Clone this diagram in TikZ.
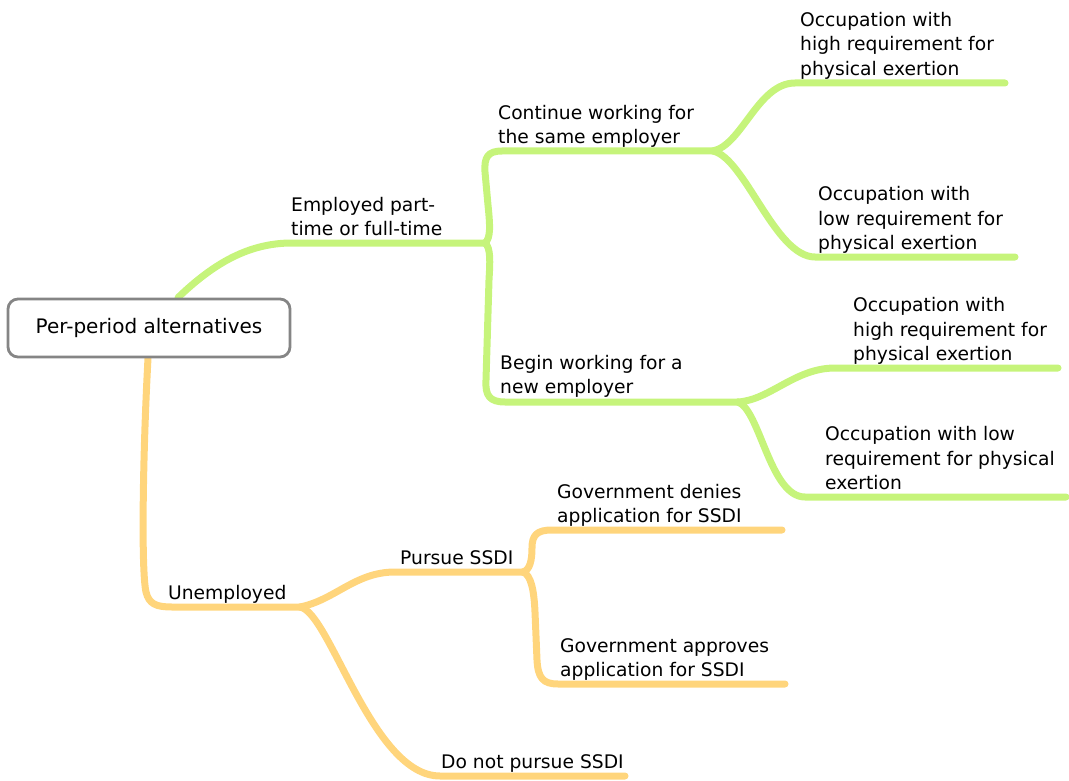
\documentclass[tikz,border=0pt]{standalone}
\usepackage{fontspec}
\setmainfont{DejaVu Sans}
\usetikzlibrary{positioning,backgrounds}
\definecolor{limeline}{HTML}{C6F47B}
\definecolor{peachline}{HTML}{FFD57C}
\definecolor{boxgray}{HTML}{858585}

\begin{document}
\begin{tikzpicture}[x=1pt,y=-1pt]
 \tikzstyle{every node}=[font=\fontsize{18.7}{24.5}\selectfont]
 \tikzstyle{lbl} = [anchor=base west, inner sep=0pt, align=left]
 \tikzstyle{g} = [draw=limeline, line width=7pt, line cap=round]
 \tikzstyle{o} = [draw=peachline, line width=7pt, line cap=round]
 \tikzstyle{rootbox} = [draw=boxgray, fill=white, line width=2.8pt, rounded corners=10pt,
   minimum width=282pt, minimum height=58pt, inner sep=0pt, font=\fontsize{20}{24}\selectfont]
 \useasboundingbox (0,0) rectangle (1069,781);

 \node[rootbox] (Root) at (149,328) {Per-period alternatives};

 % junctions and line ends
 \coordinate (J1) at (485,243);
 \coordinate (J2) at (713,151);
 \coordinate (J3) at (738,402);
 \coordinate (J4) at (300,607);
 \coordinate (J5) at (523,572);
 \coordinate (HighAEnd) at (1005,83);
 \coordinate (LowAEnd) at (1015,257);
 \coordinate (HighBEnd) at (1058,368);
 \coordinate (LowBEnd) at (1066,497);
 \coordinate (NoSSDIEnd) at (625,776);
 \coordinate (DeniesEnd) at (782,530);
 \coordinate (ApprovesEnd) at (785,684);

 % labels (base = last line)
 \node[lbl] (Employed) at (291,235.5) {Employed part-\\time or full-time};
 \node[lbl] (Same) at (498,143.5) {Continue working for\\the same employer};
 \node[lbl] (HighA) at (800,75.5) {Occupation with\\high requirement for\\physical exertion};
 \node[lbl] (LowA) at (818,249.5) {Occupation with\\low requirement for\\physical exertion};
 \node[lbl] (New) at (500,393.5) {Begin working for a\\new employer};
 \node[lbl] (HighB) at (853,360.5) {Occupation with\\high requirement for\\physical exertion};
 \node[lbl] (LowB) at (825,489.5) {Occupation with low\\requirement for physical\\exertion};
 \node[lbl] (Unemployed) at (168,599.5) {Unemployed};
 \node[lbl] (SSDI) at (400,564.5) {Pursue SSDI};
 \node[lbl] (NoSSDI) at (441,768.5) {Do not pursue SSDI};
 \node[lbl] (Denies) at (557,522.5) {Government denies\\application for SSDI};
 \node[lbl] (Approves) at (560,676.5) {Government approves\\application for SSDI};

 \begin{pgfonlayer}{background}
 % employed branch
 \path [g] ([xshift=29pt]Root.north) .. controls (215,262) and (250,243) .. (292,243) -- (J1);
 \path [g] (J1) .. controls (491,238) and (490,225) .. (488,205) -- (485,172)
   .. controls (484,157) and (488,151) .. (502,151) -- (J2);
 \path [g] (J1) .. controls (491,248) and (490,262) .. (489,280) -- (486,380)
   .. controls (485,396) and (490,402) .. (505,402) -- (J3);
 \path [g] (J2) .. controls (742,145) and (758,83) .. (795,83) -- (HighAEnd);
 \path [g] (J2) .. controls (745,158) and (775,257) .. (815,257) -- (LowAEnd);
 \path [g] (J3) .. controls (770,400) and (795,368) .. (835,368) -- (HighBEnd);
 \path [g] (J3) .. controls (760,410) and (770,497) .. (805,497) -- (LowBEnd);
 % unemployed branch
 \path [o] ([xshift=-1pt]Root.south) .. controls (143,450) and (141,570) .. (146,592)
   .. controls (149,604) and (156,607) .. (172,607) -- (J4);
 \path [o] (J4) .. controls (335,600) and (355,572) .. (395,572) -- (J5);
 \path [o] (J4) .. controls (330,612) and (372,776) .. (440,776) -- (NoSSDIEnd);
 \path [o] (J5) .. controls (530,570) and (532,560) .. (532,548)
   .. controls (532,535) and (537,530) .. (552,530) -- (DeniesEnd);
 \path [o] (J5) .. controls (531,575) and (534,590) .. (535,612) -- (537,660)
   .. controls (538,678) and (543,684) .. (558,684) -- (ApprovesEnd);
 \end{pgfonlayer}
\end{tikzpicture}
\end{document}
